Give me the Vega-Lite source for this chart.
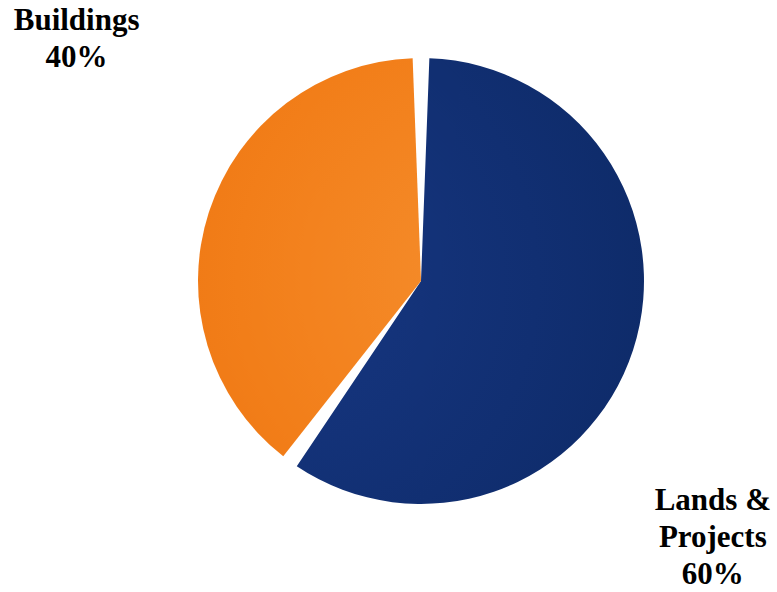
{
  "$schema": "https://vega.github.io/schema/vega-lite/v6.json",
  "width": 712,
  "height": 562,
  "autosize": {"type": "none"},
  "padding": {"left": 65, "right": 0, "top": 0, "bottom": 30},
  "background": "white",
  "view": {"stroke": null},
  "data": {
    "values": [
      {"category": "Lands & Projects", "value": 60, "label": "Lands &\nProjects\n60%"},
      {"category": "Buildings", "value": 40, "label": "Buildings\n40%"}
    ]
  },
  "encoding": {
    "theta": {"field": "value", "type": "quantitative", "stack": true},
    "order": {"field": "category", "sort": "descending"}
  },
  "layer": [
    {
      "mark": {
        "type": "arc",
        "outerRadius": 223,
        "padAngle": 0.075,
        "fill": {
          "gradient": "radial",
          "x1": 0.05, "y1": 0.5, "r1": 0,
          "x2": 0.05, "y2": 0.5, "r2": 1,
          "stops": [
            {"offset": 0, "color": "#173782"},
            {"offset": 0.6, "color": "#112f72"},
            {"offset": 0.88, "color": "#0e2b69"},
            {"offset": 1, "color": "#091f55"}
          ]
        }
      },
      "encoding": {
        "opacity": {"condition": {"test": "datum.category === 'Lands & Projects'", "value": 1}, "value": 0}
      }
    },
    {
      "mark": {
        "type": "arc",
        "outerRadius": 223,
        "padAngle": 0.075,
        "fill": {
          "gradient": "radial",
          "x1": 0.95, "y1": 0.55, "r1": 0,
          "x2": 0.95, "y2": 0.55, "r2": 1.05,
          "stops": [
            {"offset": 0, "color": "#f58d2c"},
            {"offset": 0.6, "color": "#f27e19"},
            {"offset": 0.88, "color": "#ee7612"},
            {"offset": 1, "color": "#d8680c"}
          ]
        }
      },
      "encoding": {
        "opacity": {"condition": {"test": "datum.category === 'Buildings'", "value": 1}, "value": 0}
      }
    },
    {
      "mark": {
        "type": "text",
        "radius": 360,
        "dx": -2,
        "dy": -149,
        "font": "Liberation Serif",
        "fontWeight": "bold",
        "fontSize": 31,
        "lineHeight": 37,
        "lineBreak": "\n",
        "align": "center",
        "baseline": "middle",
        "color": "black"
      },
      "encoding": {
        "text": {"field": "label"},
        "opacity": {"condition": {"test": "datum.category === 'Buildings'", "value": 1}, "value": 0}
      }
    },
    {
      "mark": {
        "type": "text",
        "radius": 310,
        "dx": -3,
        "dy": 124,
        "font": "Liberation Serif",
        "fontWeight": "bold",
        "fontSize": 31,
        "lineHeight": 37,
        "lineBreak": "\n",
        "align": "center",
        "baseline": "middle",
        "color": "black"
      },
      "encoding": {
        "text": {"field": "label"},
        "opacity": {"condition": {"test": "datum.category === 'Lands & Projects'", "value": 1}, "value": 0}
      }
    }
  ]
}
